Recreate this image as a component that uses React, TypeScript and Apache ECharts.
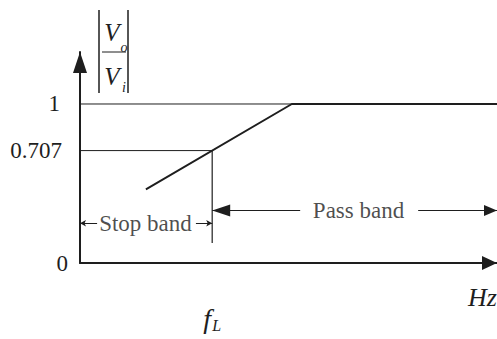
import React, { useEffect, useRef } from "react";
import * as echarts from "echarts";

// ---- data (schematic units) ----
const yTickValues = [0, 0.707, 1];
const yTickLabels = ["0", "0.707", "1"];
const cutoffFreq = 3.17; // f_L
const xMax = 10;
const yMax = 1.327;
const responseX = [1.58, 5.08, 10];
const responseY = [0.463, 1, 1];
const unityLevel = 1;
const halfPowerLevel = 0.707;
const cutoffMarkerBottom = 0.126;
const stopBandY = 0.25;
const stopBandArrows = [
  [0.41, 0],
  [2.78, cutoffFreq],
];
const passBandY = 0.33;
const passBandLeft = [5.28, cutoffFreq];
const passBandRight = [8.11, 10];
const bandLabelNames = ["Stop band", "Pass band"];
const bandLabelX = [1.57, 6.68];
const bandLabelY = [stopBandY, passBandY];

const INK = "#1e1e1e";
const SERIF = "'Liberation Serif', 'Times New Roman', serif";

export default function App() {
  const ref = useRef<HTMLDivElement>(null);
  useEffect(() => {
    if (!ref.current) return;
    const chart = echarts.init(ref.current, null, { renderer: "svg" });
    const seg = (pts: number[][], width: number) => ({
      type: "line",
      data: pts,
      symbol: "none",
      silent: true,
      clip: false,
      lineStyle: { color: INK, width },
    });
    const labelPad: Record<string, number> = { "0": 0, "0.707": 6, "1": 8 };
    chart.setOption({
      animation: false,
      backgroundColor: "#fff",
      grid: { left: 80, right: 0, top: 52, bottom: 76 },
      xAxis: {
        type: "value",
        min: 0,
        max: xMax,
        splitLine: { show: false },
        axisLine: {
          show: true,
          lineStyle: { color: INK, width: 2 },
          symbol: ["none", "triangle"],
          symbolSize: [14, 15],
          symbolOffset: [0, -7.5],
        },
        axisTick: { show: false },
        axisLabel: {
          show: true,
          customValues: [cutoffFreq],
          margin: 40,
          formatter: () => "{f|f}{L|L}",
          rich: {
            f: { fontFamily: SERIF, fontStyle: "italic", fontSize: 28, color: INK },
            L: { fontFamily: SERIF, fontStyle: "italic", fontSize: 16, color: INK, padding: [14, 0, 0, 1] },
          },
        },
      },
      yAxis: {
        type: "value",
        min: 0,
        max: yMax,
        splitLine: { show: false },
        axisLine: {
          show: true,
          lineStyle: { color: INK, width: 2 },
          symbol: ["none", "triangle"],
          symbolSize: [14, 21],
          symbolOffset: [0, -10.5],
        },
        axisTick: { show: false },
        axisLabel: {
          show: true,
          customValues: yTickValues,
          margin: 12,
          formatter: (v: number) => {
            const i = yTickValues.findIndex((t) => Math.abs(t - v) < 1e-6);
            if (i < 0) return "";
            const s = yTickLabels[i];
            return `{p${labelPad[s] || 0}|${s}}`;
          },
          rich: {
            p0: { fontFamily: SERIF, fontSize: 23, color: INK },
            p6: { fontFamily: SERIF, fontSize: 23, color: INK, padding: [0, 6, 0, 0] },
            p8: { fontFamily: SERIF, fontSize: 23, color: INK, padding: [0, 8, 0, 0] },
          },
        },
      },
      series: [
        seg([[0, unityLevel], [xMax, unityLevel]], 1),
        seg([[0, halfPowerLevel], [cutoffFreq, halfPowerLevel]], 1),
        seg([[cutoffFreq, halfPowerLevel], [cutoffFreq, cutoffMarkerBottom]], 1.2),
        seg(responseX.map((x, i) => [x, responseY[i]]), 2),
        {
          type: "line",
          data: [],
          clip: false,
          silent: true,
          markLine: {
            silent: true,
            animation: false,
            label: { show: false },
            lineStyle: { color: INK, width: 1, type: "solid" },
            data: [
              [
                { coord: [cutoffFreq, -0.032], symbol: "none" },
                { coord: [cutoffFreq, 0.032], symbol: "none" },
              ],
              ...stopBandArrows.map((a) => [
                { coord: [a[0], stopBandY], symbol: "none" },
                { coord: [a[1], stopBandY], symbol: "arrow", symbolSize: [5, 6] },
              ]),
              [
                { coord: [passBandLeft[0], passBandY], symbol: "none" },
                { coord: [passBandLeft[1], passBandY], symbol: "triangle", symbolSize: [12, 18], symbolOffset: [0, 9] },
              ],
              [
                { coord: [passBandRight[0], passBandY], symbol: "none" },
                { coord: [passBandRight[1], passBandY], symbol: "triangle", symbolSize: [11, 13], symbolOffset: [0, 6.5] },
              ],
            ],
          },
        },
        {
          type: "scatter",
          silent: true,
          symbolSize: 0,
          data: bandLabelNames.map((n, i) => ({ name: n, value: [bandLabelX[i], bandLabelY[i]] })),
          label: {
            show: true,
            position: "inside",
            formatter: "{b}",
            fontFamily: SERIF,
            fontSize: 23,
            color: INK,
          },
        },
      ],
      graphic: [
        { type: "line", shape: { x1: 99, y1: 10, x2: 99, y2: 93 }, style: { stroke: INK, lineWidth: 1.5 } },
        { type: "line", shape: { x1: 128, y1: 10, x2: 128, y2: 93 }, style: { stroke: INK, lineWidth: 1.5 } },
        { type: "line", shape: { x1: 102, y1: 52, x2: 126, y2: 52 }, style: { stroke: INK, lineWidth: 1 } },
        { type: "text", x: 112, y: 32, style: { text: "V", font: `italic 25px ${SERIF}`, fill: INK, align: "center", verticalAlign: "middle" } },
        { type: "text", x: 124, y: 47, style: { text: "o", font: `italic 14px ${SERIF}`, fill: INK, align: "center", verticalAlign: "middle" } },
        { type: "text", x: 112, y: 76, style: { text: "V", font: `italic 25px ${SERIF}`, fill: INK, align: "center", verticalAlign: "middle" } },
        { type: "text", x: 124, y: 87, style: { text: "i", font: `italic 14px ${SERIF}`, fill: INK, align: "center", verticalAlign: "middle" } },
        { type: "text", x: 497, y: 297, style: { text: "Hz", font: `italic 26px ${SERIF}`, fill: INK, align: "right", verticalAlign: "middle" } },
      ],
    });
    return () => chart.dispose();
  }, []);
  return <div ref={ref} style={{ width: 497, height: 339, position: "fixed", left: 0, top: 0 }} />;
}
